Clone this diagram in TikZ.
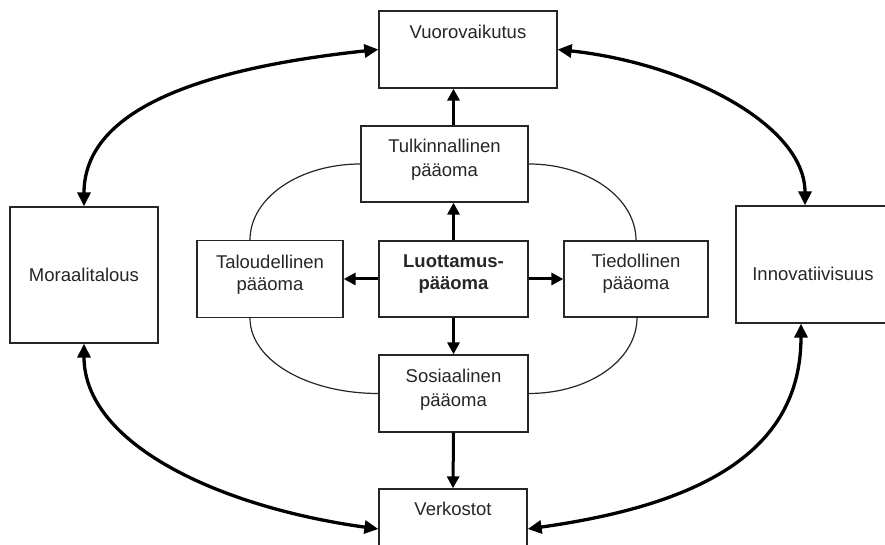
\documentclass[tikz,border=0pt]{standalone}
\usepackage{fontspec}
\setmainfont{Liberation Sans}
\usetikzlibrary{arrows.meta}
\begin{document}
\begin{tikzpicture}[x=1pt,y=1pt,
  box/.style={draw=black!85, line width=1.3pt, rectangle, inner sep=0pt, fill=white},
  lbl/.style={font=\fontsize{18.5}{24.5}\selectfont, align=center, text=black!85, inner sep=0pt},
  lblrow/.style={font=\fontsize{18.5}{22}\selectfont, align=center, text=black!85, inner sep=0pt},
  arr/.style={line width=3pt, -{Triangle[length=12pt,width=12pt]}},
  bigarr/.style={line width=3.3pt, {Triangle[length=14pt,width=13pt]}-{Triangle[length=14pt,width=13pt]}},
  thin/.style={line width=1.2pt, black!85}]
\useasboundingbox (0,0) rectangle (885,545);
\clip (0,0) rectangle (885,545);
\fill[white] (0,0) rectangle (885,545);

\node[box, minimum width=178pt, minimum height=77pt,
  label={[lbl,yshift=18pt]center:Vuorovaikutus}] (vuoro) at (468,495.5) {};
\node[box, minimum width=167pt, minimum height=76pt,
  label={[lbl,yshift=4.5pt]center:{Tulkinnallinen\\pääoma}}] (tulk) at (444.5,381) {};
\node[box, minimum width=149pt, minimum height=76pt,
  label={[lblrow,yshift=4.8pt]center:{\bfseries Luottamus-\\\bfseries pääoma}}] (luott) at (453.5,266) {};
\node[box, minimum width=146pt, minimum height=77pt,
  label={[lblrow,yshift=4.5pt]center:{Taloudellinen\\pääoma}}] (tal) at (270,266) {};
\node[box, minimum width=144pt, minimum height=76pt,
  label={[lblrow,yshift=4.8pt]center:{Tiedollinen\\pääoma}}] (tied) at (636,266) {};
\node[box, minimum width=149pt, minimum height=77pt,
  label={[lbl,yshift=4pt]center:{Sosiaalinen\\pääoma}}] (sos) at (453.5,151.5) {};
\node[box, minimum width=148pt, minimum height=80pt,
  label={[lbl,yshift=20.5pt]center:Verkostot}] (verk) at (453,16) {};
\node[box, minimum width=148pt, minimum height=136pt,
  label={[lbl]center:Moraalitalous}] (moraal) at (84,270) {};
\node[box, minimum width=154pt, minimum height=117pt,
  label={[lbl,yshift=-9pt]center:Innovatiivisuus}] (innov) at (813,280.5) {};

% thin ellipse arcs
\draw[thin] (tulk.west) .. controls +(-61,0) and +(0,42) .. ([xshift=-20pt]tal.north);
\draw[thin] (tulk.east) .. controls +(60,0) and +(0,42) .. (tied.north);
\draw[thin] ([xshift=-20pt]tal.south) .. controls +(0,-42) and +(-71,0) .. (sos.west);
\draw[thin] ([xshift=1pt]tied.south) .. controls +(0,-42) and +(61,0) .. (sos.east);

% straight arrows
\draw[arr] (luott.north) -- (luott.north |- tulk.south);
\draw[arr] (luott.north |- tulk.north) -- (luott.north |- vuoro.south);
\draw[arr] (luott.south) -- (sos.north);
\draw[arr] (sos.south) -- (verk.north);
\draw[arr] (luott.west) -- (tal.east);
\draw[arr] (luott.east) -- (tied.west);

% big curved arrows
\draw[bigarr] (moraal.north) .. controls +(0,100) and +(-169,-18) .. (vuoro.west);
\draw[bigarr] ([xshift=-8pt]innov.north) .. controls +(0,80) and +(130,-14) .. (vuoro.east);
\draw[bigarr] (moraal.south) .. controls +(0,-100) and +(-160,22) .. (verk.west);
\draw[bigarr] ([xshift=-12pt]innov.south) .. controls +(0,-130) and +(170,24) .. (verk.east);
\end{tikzpicture}
\end{document}
